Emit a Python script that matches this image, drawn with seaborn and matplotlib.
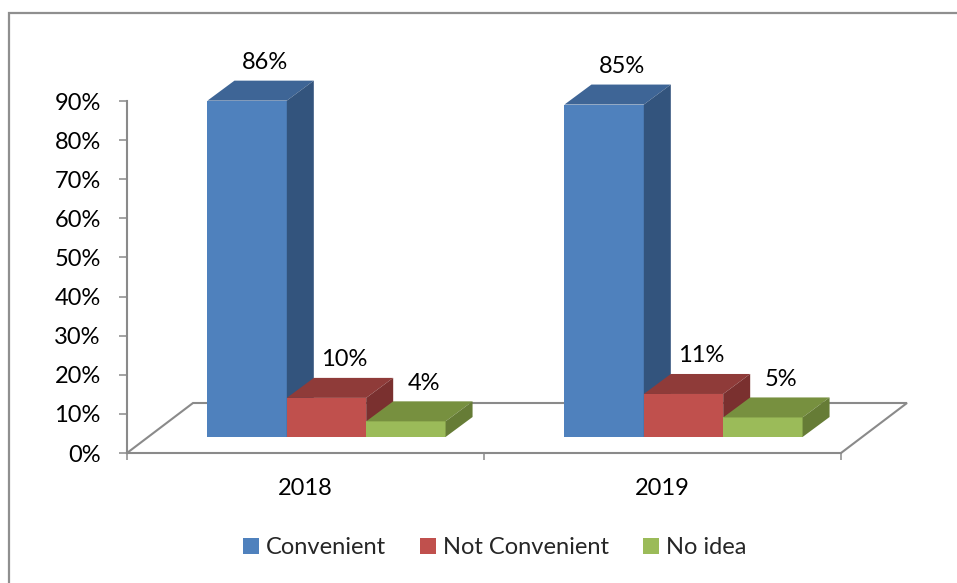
import numpy as np
import pandas as pd
import seaborn as sns
import matplotlib.pyplot as plt
import matplotlib.transforms as mtransforms
from matplotlib.colors import to_rgb
from matplotlib.patches import Polygon, Rectangle

# ---- data ----
years = ["2018", "2019"]
series = ["Convenient", "Not Convenient", "No idea"]
convenient = [86, 85]
not_convenient = [10, 11]
no_idea = [4, 5]
ytick_values = [0, 10, 20, 30, 40, 50, 60, 70, 80, 90]
ytick_labels = ["0%", "10%", "20%", "30%", "40%", "50%", "60%", "70%", "80%", "90%"]

front_colors = ["#4F81BD", "#C0504D", "#9BBB59"]
top_colors = ["#3E6596", "#8F3B39", "#77903F"]
side_colors = ["#33547D", "#7A302F", "#667C36"]

df = pd.DataFrame({
    "Year": years * 3,
    "Response": [s for s in series for _ in years],
    "Value": convenient + not_convenient + no_idea,
})

sns.set_theme(style="white")
plt.rcParams['font.family'] = ['Lato', 'DejaVu Sans']
FS = 17

W, H = 957, 583
fig = plt.figure(figsize=(W / 100, H / 100), dpi=100)
fig.patch.set_facecolor("white")

# outer chart border (extends beyond the cropped image to right/bottom)
fig.add_artist(Rectangle((9 / W, -0.1), 1.2, (H - 13) / H + 0.1,
                         transform=fig.transFigure, fill=False,
                         edgecolor="#8f8f8f", linewidth=1.6, zorder=0))

x_left, x_right, y_bot, y_top = 127, 841, 453, 101
ax = fig.add_axes([x_left / W, (H - y_bot) / H, (x_right - x_left) / W, (y_bot - y_top) / H])
ax.set_facecolor("none")

sns.barplot(data=df, x="Year", y="Value", hue="Response", hue_order=series,
            palette=front_colors, width=0.667, saturation=1, ax=ax,
            edgecolor="none", linewidth=0, err_kws={"linewidth": 0})
ax.set_xlim(-0.5, 1.5)
ax.set_ylim(0, 90)

# pixel -> data conversions
px_x = (x_right - x_left) / 2.0
px_y = (y_bot - y_top) / 90.0
fx, fy = 21 / px_x, 16 / px_y       # front-face depth offset
bx, by = 27 / px_x, 20 / px_y       # bar depth
Fx, Fy = 66 / px_x, 50 / px_y       # floor depth

gray = "#8a8a8a"
# floor outline (back/side edges)
ax.plot([-0.5, -0.5 + Fx, 1.5 + Fx, 1.5], [0, Fy, Fy, 0], color=gray,
        linewidth=1.5, clip_on=False, zorder=1, solid_joinstyle="miter")

patches = sorted([p for p in ax.patches if p.get_height() > 0], key=lambda p: p.get_x())

z = 3
for p in patches:
    fc = p.get_facecolor()
    ci = min(range(3), key=lambda k: sum(abs(a - b) for a, b in zip(fc[:3], to_rgb(front_colors[k]))))
    x0 = p.get_x() + fx
    w = p.get_width()
    x1 = x0 + w
    h = p.get_height()
    y0 = fy
    y1 = fy + h
    p.set_transform(mtransforms.Affine2D().translate(fx, fy) + ax.transData)
    p.set_clip_on(False)
    p.set_zorder(z)
    top = Polygon([(x0, y1), (x1, y1), (x1 + bx, y1 + by), (x0 + bx, y1 + by)],
                  closed=True, facecolor=top_colors[ci], edgecolor="none",
                  clip_on=False, zorder=z + 0.1)
    side = Polygon([(x1, y0), (x1 + bx, y0 + by), (x1 + bx, y1 + by), (x1, y1)],
                   closed=True, facecolor=side_colors[ci], edgecolor="none",
                   clip_on=False, zorder=z + 0.1)
    ax.add_patch(top)
    ax.add_patch(side)
    ax.text((x0 + x1) / 2 + 18 / px_x, y1 + by + 18 / px_y, f"{h:.0f}%",
            ha="center", va="center", fontsize=FS, color="black", zorder=20, clip_on=False)
    z += 1

# axes styling
for s in ["top", "right"]:
    ax.spines[s].set_visible(False)
for s in ["left", "bottom"]:
    ax.spines[s].set_color(gray)
    ax.spines[s].set_linewidth(1.5)
    ax.spines[s].set_zorder(2)

ax.set_yticks(ytick_values)
ax.set_yticklabels(ytick_labels, fontsize=FS, color="black")
ax.tick_params(axis="y", direction="out", length=5.8, width=1.1, color=gray, pad=13, left=True)

ax.set_xticks([0, 1])
ax.set_xticklabels(years, fontsize=FS, color="black")
ax.set_xticks([-0.5, 0.5, 1.5], minor=True)
ax.tick_params(axis="x", which="major", length=0, pad=18)
ax.tick_params(axis="x", which="minor", direction="out", length=5.0, width=1.1, color=gray, bottom=True)
ax.set_xlabel("")
ax.set_ylabel("")

sns.move_legend(ax, "center", bbox_to_anchor=(494.5 / W, (H - 548) / H),
                bbox_transform=fig.transFigure, ncol=3, frameon=False, title=None,
                fontsize=FS, handlelength=0.66, handleheight=0.66,
                handletextpad=0.3, columnspacing=1.45)

fig.savefig("out.png", dpi=100)
